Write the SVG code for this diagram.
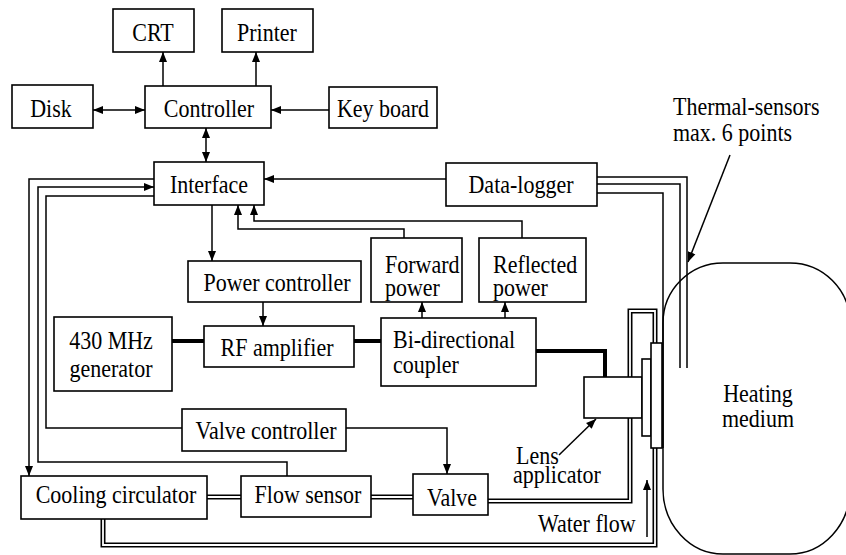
<svg xmlns="http://www.w3.org/2000/svg" width="846" height="555" viewBox="0 0 846 555">
<style>
.box{fill:#fff;stroke:#000;stroke-width:1.6}
.ln{fill:none;stroke:#000;stroke-width:1.5}
.rf{fill:none;stroke:#000;stroke-width:4}
.pipeo{fill:none;stroke:#000;stroke-width:5}
.pipei{fill:none;stroke:#fff;stroke-width:1.8}
text{font-family:"Liberation Serif","Times New Roman",serif;font-size:22px;fill:#000}
.c{text-anchor:middle}
</style>
<defs>
<marker id="ah" viewBox="0 0 10 10" refX="10" refY="5" markerWidth="10" markerHeight="10" markerUnits="userSpaceOnUse" orient="auto-start-reverse"><path d="M0,1 L10,5 L0,9 z" fill="#000"/></marker>
</defs>

<g id="connectors">
<path class="ln" d="M163,86 V52" marker-end="url(#ah)"/>
<path class="ln" d="M256,86 V52" marker-end="url(#ah)"/>
<path class="ln" d="M93,110 H145" marker-start="url(#ah)" marker-end="url(#ah)"/>
<path class="ln" d="M329,110 H271" marker-end="url(#ah)"/>
<path class="ln" d="M206,128 V162" marker-start="url(#ah)" marker-end="url(#ah)"/>
<path class="ln" d="M446,179 H264" marker-end="url(#ah)"/>
<path class="ln" d="M212,205 V261" marker-end="url(#ah)"/>
<path class="ln" d="M404,238 V229 H238 V205" marker-end="url(#ah)"/>
<path class="ln" d="M522,238 V221 H254 V205" marker-end="url(#ah)"/>
<path class="ln" d="M422,318 V302" marker-end="url(#ah)"/>
<path class="ln" d="M505,318 V302" marker-end="url(#ah)"/>
<path class="ln" d="M263,302 V326" marker-end="url(#ah)"/>
<path class="ln" d="M154,179 H29 V476" marker-end="url(#ah)"/>
<path class="ln" d="M287,476 V462 H38 V187 H154" marker-end="url(#ah)"/>
<path class="ln" d="M154,196 H46 V428 H182"/>
<path class="ln" d="M346,428 H447 V474" marker-end="url(#ah)"/>
<path class="rf" d="M172,341 H204"/>
<path class="rf" d="M354,341 H381"/>
<path class="rf" d="M536,351 H605 V377"/>
<path class="pipeo" d="M207,497 H241"/>
<path class="pipei" d="M207,497 H241"/>
<path class="pipeo" d="M371,497 H413"/>
<path class="pipei" d="M371,497 H413"/>
<path class="pipeo" d="M488,501 H630 V418"/>
<path class="pipei" d="M488,501 H630 V418"/>
<path class="pipeo" d="M630,377 V311 H655 V343"/>
<path class="pipei" d="M630,377 V311 H655 V343"/>
<path class="pipeo" d="M655,448 V545 H103 V519"/>
<path class="pipei" d="M655,448 V545 H103 V519"/>
<path class="ln" d="M597,177 H687 V368"/>
<path class="ln" d="M597,184 H680 V368"/>
<path class="ln" d="M597,193 H663 V448"/>
<path class="ln" d="M730,155 L688,262" marker-end="url(#ah)"/>
<path class="ln" d="M559,455 L596,419" marker-end="url(#ah)"/>
<path class="ln" d="M647,537 V480" marker-end="url(#ah)"/>
</g>

<g id="crt"><rect class="box" x="113" y="9" width="81" height="43"/><text class="c" x="153" y="41" transform="matrix(1,0,0,1.15,0,-6.15)">CRT</text></g>
<g id="printer"><rect class="box" x="222" y="9" width="91" height="43"/><text class="c" x="267" y="41" transform="matrix(1,0,0,1.15,0,-6.15)">Printer</text></g>
<g id="disk"><rect class="box" x="12" y="85" width="81" height="43"/><text class="c" x="51" y="117" transform="matrix(1,0,0,1.15,0,-17.55)">Disk</text></g>
<g id="controller"><rect class="box" x="145" y="86" width="126" height="42"/><text class="c" x="209" y="117" transform="matrix(1,0,0,1.15,0,-17.55)">Controller</text></g>
<g id="keyboard"><rect class="box" x="329" y="87" width="108" height="41"/><text class="c" x="383" y="117" transform="matrix(1,0,0,1.15,0,-17.55)">Key board</text></g>
<g id="interface"><rect class="box" x="154" y="162" width="110" height="43"/><text class="c" x="209" y="193" transform="matrix(1,0,0,1.15,0,-28.95)">Interface</text></g>
<g id="datalogger"><rect class="box" x="446" y="163" width="151" height="43"/><text class="c" x="521" y="193" transform="matrix(1,0,0,1.15,0,-28.95)">Data-logger</text></g>
<g id="powercontroller"><rect class="box" x="188" y="261" width="173" height="41"/><text class="c" x="277" y="291" transform="matrix(1,0,0,1.15,0,-43.65)">Power controller</text></g>
<g id="forwardpower"><rect class="box" x="371" y="238" width="91" height="64"/><text x="385" y="273" transform="matrix(1,0,0,1.15,0,-40.95)">Forward<tspan x="385" dy="20">power</tspan></text></g>
<g id="reflectedpower"><rect class="box" x="479" y="238" width="107" height="64"/><text x="493" y="273" transform="matrix(1,0,0,1.15,0,-40.95)">Reflected<tspan x="493" dy="20">power</tspan></text></g>
<g id="generator"><rect class="box" x="54" y="317" width="118" height="74"/><text class="c" x="111" y="349" transform="matrix(1,0,0,1.15,0,-52.35)">430 MHz<tspan x="111" dy="24.35">generator</tspan></text></g>
<g id="rfamplifier"><rect class="box" x="204" y="326" width="150" height="41"/><text class="c" x="277" y="356" transform="matrix(1,0,0,1.15,0,-53.4)">RF amplifier</text></g>
<g id="coupler"><rect class="box" x="381" y="318" width="155" height="68"/><text x="393" y="348" transform="matrix(1,0,0,1.15,0,-52.2)">Bi-directional<tspan x="393" dy="21.74">coupler</tspan></text></g>
<g id="valvecontroller"><rect class="box" x="182" y="409" width="164" height="42"/><text class="c" x="266" y="439" transform="matrix(1,0,0,1.15,0,-65.85)">Valve controller</text></g>
<g id="cooling"><rect class="box" x="21" y="476" width="186" height="43"/><text class="c" x="116" y="503" transform="matrix(1,0,0,1.15,0,-75.45)">Cooling circulator</text></g>
<g id="flowsensor"><rect class="box" x="241" y="476" width="130" height="41"/><text class="c" x="308" y="503" transform="matrix(1,0,0,1.15,0,-75.45)">Flow sensor</text></g>
<g id="valve"><rect class="box" x="413" y="474" width="75" height="41"/><text class="c" x="452" y="506" transform="matrix(1,0,0,1.15,0,-75.9)">Valve</text></g>

<g id="applicator">
<rect class="box" x="584" y="377" width="58" height="41"/>
<rect class="box" x="642" y="359" width="9" height="77"/>
<rect class="box" x="651" y="343" width="11" height="105"/>
<text x="516" y="464" transform="matrix(1,0,0,1.15,0,-69.6)">Lens<tspan x="513" dy="16.52">applicator</tspan></text>
</g>

<g id="heatingmedium">
<path class="ln" d="M663,323 A60,60 0 0 1 723,263 H790 A60,60 0 0 1 850,323 V489 A60,65 0 0 1 790,554 H723 A60,65 0 0 1 663,489 Z"/>
<text class="c" x="758" y="402" transform="matrix(1,0,0,1.15,0,-60.3)">Heating<tspan x="758" dy="21.74">medium</tspan></text>
</g>

<g id="labels">
<text x="673" y="115" transform="matrix(1,0,0,1.15,0,-17.25)">Thermal-sensors<tspan x="673" dy="22.61">max. 6 points</tspan></text>
<text x="538" y="532" transform="matrix(1,0,0,1.15,0,-79.8)">Water flow</text>
</g>
</svg>
